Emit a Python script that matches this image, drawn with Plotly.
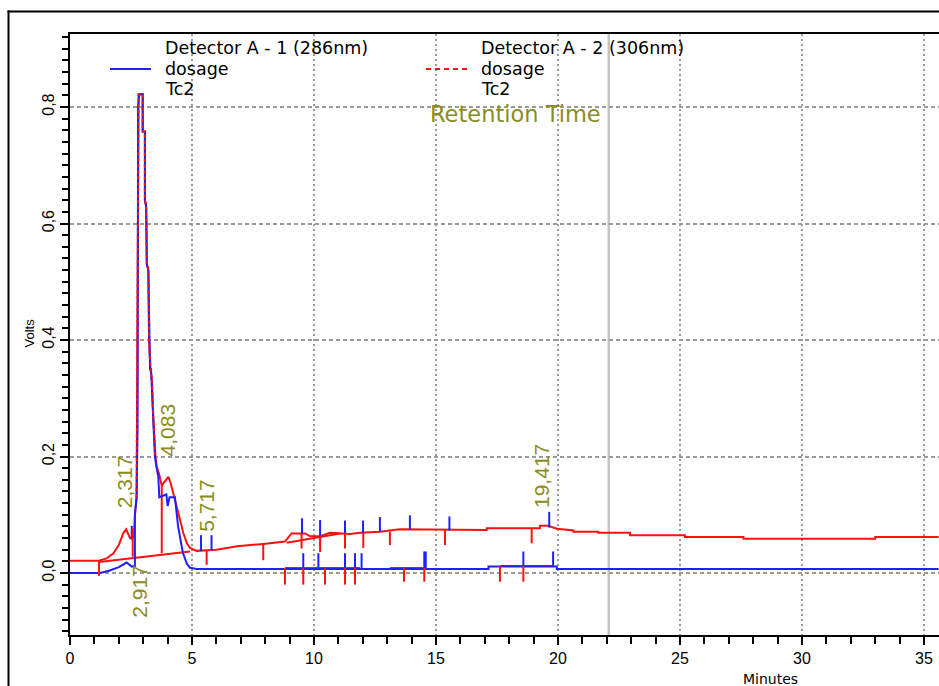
import plotly.graph_objects as go

# ---------------------------------------------------------------- data
# Detector A - 1 (286nm): time in minutes, signal in volts
blue_t = [0, 1.23, 1.6, 2.0, 2.32, 2.53, 2.66, 2.66, 2.73, 2.77, 2.79, 2.84,
          2.98, 2.98, 3.07, 3.07, 3.12, 3.15, 3.21, 3.24, 3.28, 3.32, 3.35,
          3.38, 3.41, 3.48, 3.55, 3.62, 3.66, 3.95, 4.00, 4.08, 4.30, 4.43,
          4.63, 4.80, 4.92, 5.20, 17.15, 17.15, 19.95, 19.95, 35.6]
blue_v = [0, 0, 0.004, 0.010, 0.018, 0.011, 0.012, 0.10, 0.13, 0.25, 0.80, 0.822,
          0.822, 0.758, 0.758, 0.64, 0.63, 0.53, 0.52, 0.40, 0.35, 0.35, 0.32,
          0.27, 0.25, 0.20, 0.18, 0.165, 0.13, 0.135, 0.115, 0.13, 0.13, 0.08,
          0.034, 0.015, 0.009, 0.007, 0.007, 0.011, 0.011, 0.007, 0.007]

# Detector A - 2 (306nm)
red_t = [0, 1.19, 1.5, 1.78, 2.0, 2.19, 2.30, 2.40, 2.46, 2.62, 2.66, 2.73,
         2.76, 2.77, 2.79, 2.81, 2.98, 2.98, 3.07, 3.07, 3.12, 3.15, 3.21,
         3.24, 3.30, 3.36, 3.41, 3.50, 3.55, 3.65, 3.76, 3.85, 4.03, 4.12,
         4.24, 4.44, 4.64, 4.80, 4.92, 5.19, 6.0, 6.85, 7.92, 8.33, 8.81,
         9.08, 9.63, 9.84, 10.25, 10.66, 11.48, 11.89, 12.70, 13.52, 17.08,
         17.08, 19.26, 19.26, 19.60, 19.95, 20.63, 20.63, 21.65, 21.65, 22.95,
         22.95, 25.2, 25.2, 27.6, 27.6, 33.0, 33.0, 35.6]
red_v = [0.021, 0.021, 0.025, 0.034, 0.048, 0.069, 0.075, 0.066, 0.060, 0.062,
         0.10, 0.13, 0.615, 0.629, 0.64, 0.822, 0.822, 0.758, 0.758, 0.64, 0.63,
         0.53, 0.52, 0.40, 0.35, 0.33, 0.27, 0.20, 0.183, 0.17, 0.15, 0.155,
         0.165, 0.155, 0.137, 0.103, 0.069, 0.050, 0.043, 0.038, 0.040, 0.046,
         0.050, 0.052, 0.054, 0.068, 0.068, 0.063, 0.063, 0.069, 0.067, 0.069,
         0.071, 0.075, 0.074, 0.077, 0.077, 0.081, 0.081, 0.076, 0.073, 0.071,
         0.071, 0.069, 0.069, 0.065, 0.065, 0.062, 0.062, 0.059, 0.059, 0.062,
         0.062]

# Integration baselines and drop lines for detector A - 2 (t0, t1, v0, v1)
base_t0 = [1.19, 3.76, 8.88, 8.81, 13.11, 17.62]
base_t1 = [4.92, 3.76, 11.07, 11.89, 14.55, 19.80]
base_v0 = [0.019, 0.034, 0.052, 0.0086, 0.0086, 0.012]
base_v1 = [0.037, 0.150, 0.068, 0.0086, 0.0086, 0.012]

# Peak event marks: time, lower value, upper value
blue_mark_t = [2.53, 5.37, 5.80, 9.51, 10.25, 11.27, 12.01, 12.70, 13.93, 15.55,
               19.64, 9.56, 10.18, 11.27, 11.68, 11.95, 14.52, 14.58, 18.58, 19.80]
blue_mark_lo = [0.057, 0.038, 0.039, 0.068, 0.056, 0.068, 0.068, 0.071, 0.075,
                0.073, 0.078, 0.0086, 0.0086, 0.0086, 0.0086, 0.0086, 0.0086,
                0.0086, 0.012, 0.012]
blue_mark_hi = [0.081, 0.065, 0.065, 0.094, 0.091, 0.090, 0.090, 0.096, 0.099,
                0.097, 0.105, 0.034, 0.034, 0.034, 0.034, 0.034, 0.037, 0.037,
                0.037, 0.037]

red_mark_t = [1.19, 2.57, 5.60, 7.92, 9.49, 10.25, 11.27, 12.02, 13.11, 15.37,
              18.92, 8.81, 9.56, 10.45, 11.27, 11.68, 13.69, 14.52, 17.62, 18.58]
red_mark_lo = [-0.005, 0.028, 0.014, 0.022, 0.042, 0.036, 0.042, 0.043, 0.048,
               0.048, 0.051, -0.020, -0.020, -0.020, -0.020, -0.020, -0.015,
               -0.015, -0.015, -0.015]
red_mark_hi = [0.021, 0.077, 0.039, 0.050, 0.068, 0.063, 0.069, 0.069, 0.071,
               0.074, 0.077, 0.0086, 0.0086, 0.0086, 0.0086, 0.0086, 0.0086,
               0.0086, 0.012, 0.012]

# Retention times written next to the peaks, and the height of each label centre
peak_rt = [2.317, 2.917, 4.083, 5.717, 19.417]
peak_label_v = [0.156, -0.031, 0.245, 0.117, 0.167]

cursor_t = 22.08          # grey time cursor
x_ticks = [0, 5, 10, 15, 20, 25, 30, 35]
y_ticks = [0.0, 0.2, 0.4, 0.6, 0.8]

# ---------------------------------------------------------------- layout geometry
W, H = 939, 686
L, T, B = 70, 34, 635           # plot area left / top / bottom in pixels
R = W
X_RANGE = [0, (R - L) / 24.4]
Y_RANGE = [(573 - B) / 582.5, (573 - T) / 582.5]

BLUE = "#1f1fff"
RED = "#ff1010"
OLIVE = "#8c8c1e"
GRID = "#9a9a9a"


def px(x):
    return (x - L) / (R - L)


def py(y):
    return (B - y) / (B - T)


def segments(t0, t1, v0, v1):
    xs, ys = [], []
    for a, b, c, d in zip(t0, t1, v0, v1):
        xs += [a, b, None]
        ys += [c, d, None]
    return xs, ys


fig = go.Figure()

fig.add_trace(go.Scatter(x=red_t, y=red_v, mode="lines",
                         line=dict(color=RED, width=2), hoverinfo="skip"))

bx, by = segments(base_t0, base_t1, base_v0, base_v1)
fig.add_trace(go.Scatter(x=bx, y=by, mode="lines",
                         line=dict(color=RED, width=2), hoverinfo="skip"))

fig.add_trace(go.Scatter(x=blue_t, y=blue_v, mode="lines",
                         line=dict(color=BLUE, width=2), hoverinfo="skip"))

# detector 2 overlaid dashed on the main peak, where both traces coincide
pk = [(t, v) for t, v in zip(red_t, red_v) if 2.7 <= t <= 3.5]
fig.add_trace(go.Scatter(x=[p[0] for p in pk], y=[p[1] for p in pk], mode="lines",
                         line=dict(color=RED, width=2, dash="3px,3px"),
                         hoverinfo="skip"))

mx, my = segments(blue_mark_t, blue_mark_t, blue_mark_lo, blue_mark_hi)
fig.add_trace(go.Scatter(x=mx, y=my, mode="lines",
                         line=dict(color=BLUE, width=2), hoverinfo="skip"))
mx, my = segments(red_mark_t, red_mark_t, red_mark_lo, red_mark_hi)
fig.add_trace(go.Scatter(x=mx, y=my, mode="lines",
                         line=dict(color=RED, width=2), hoverinfo="skip"))

shapes = [
    # grey cursor line
    dict(type="line", xref="x", yref="paper", x0=cursor_t, x1=cursor_t, y0=0, y1=1,
         line=dict(color="#c4c4c4", width=2.5), layer="below"),
    # outer frame
    dict(type="line", xref="paper", yref="paper", x0=px(8.5), x1=px(8.5),
         y0=py(10.5), y1=py(H + 5), line=dict(color="black", width=2)),
    dict(type="line", xref="paper", yref="paper", x0=px(7.5), x1=px(W + 5),
         y0=py(11.5), y1=py(11.5), line=dict(color="black", width=2)),
    # legend line samples
    dict(type="line", xref="paper", yref="paper", x0=px(110), x1=px(151),
         y0=py(69), y1=py(69), line=dict(color=BLUE, width=2)),
    dict(type="line", xref="paper", yref="paper", x0=px(426), x1=px(468),
         y0=py(69), y1=py(69), line=dict(color=RED, width=2, dash="5px,4px")),
]

LEG_FONT = dict(family="DejaVu Sans", size=17.5, color="black")
annotations = []
for x0, lines in [(163, ["Detector A - 1 (286nm)", "dosage", "Tc2"]),
                  (479, ["Detector A - 2 (306nm)", "dosage", "Tc2"])]:
    for y0, txt in zip([48, 69, 89], lines):
        annotations.append(dict(xref="paper", yref="paper", x=px(x0), y=py(y0),
                                text=txt, showarrow=False, xanchor="left",
                                yanchor="middle", font=LEG_FONT))

annotations.append(dict(xref="x", yref="y", x=(515 - L) / 24.4, y=(573 - 114) / 582.5,
                        text="Retention Time", showarrow=False,
                        font=dict(family="DejaVu Sans", size=22.5, color=OLIVE)))

for rt, lv in zip(peak_rt, peak_label_v):
    annotations.append(dict(xref="x", yref="y", x=rt, y=lv, xshift=-2.5,
                            text=f"{rt:.3f}".replace(".", ","), textangle=-90,
                            showarrow=False,
                            font=dict(family="Liberation Sans", size=21, color=OLIVE)))

annotations.append(dict(xref="paper", yref="paper", x=px(19), y=py(333),
                        text="Volts", textangle=-90, showarrow=False,
                        font=dict(family="Liberation Sans", size=13, color="black")))
annotations.append(dict(xref="paper", yref="paper", x=px(800), y=py(669),
                        text="Minutes", showarrow=False, yanchor="top",
                        font=dict(family="DejaVu Sans", size=14, color="black")))

fig.update_layout(
    width=W, height=H,
    margin=dict(l=L, r=W - R, t=T, b=H - B),
    paper_bgcolor="white", plot_bgcolor="white",
    showlegend=False,
    separators=",.",
    shapes=shapes,
    annotations=annotations,
)

fig.update_xaxes(
    range=X_RANGE, tickvals=x_ticks, ticktext=[str(v) for v in x_ticks],
    showline=True, linecolor="black", linewidth=2, mirror=True,
    ticks="outside", ticklen=8, tickwidth=1.5, tickcolor="black",
    minor=dict(dtick=1, ticks="outside", ticklen=7, tickcolor="black", tickwidth=1.5),
    showgrid=True, gridcolor=GRID, gridwidth=1.5, griddash="2px,3px",
    zeroline=False,
    tickfont=dict(family="Liberation Sans", size=16, color="black"),
)
fig.update_yaxes(
    range=Y_RANGE, tickvals=y_ticks, ticktext=[f"{v:.1f}".replace(".", ",") for v in y_ticks],
    tickangle=-90,
    showline=True, linecolor="black", linewidth=2, mirror=False,
    ticks="outside", ticklen=8, tickwidth=1.5, tickcolor="black",
    minor=dict(dtick=0.02, tick0=0, ticks="outside", ticklen=6, tickcolor="black", tickwidth=1.5),
    showgrid=True, gridcolor=GRID, gridwidth=1.5, griddash="4px,3px",
    zeroline=False,
    tickfont=dict(family="Liberation Sans", size=16, color="black"),
)

fig.write_html("out.html")
